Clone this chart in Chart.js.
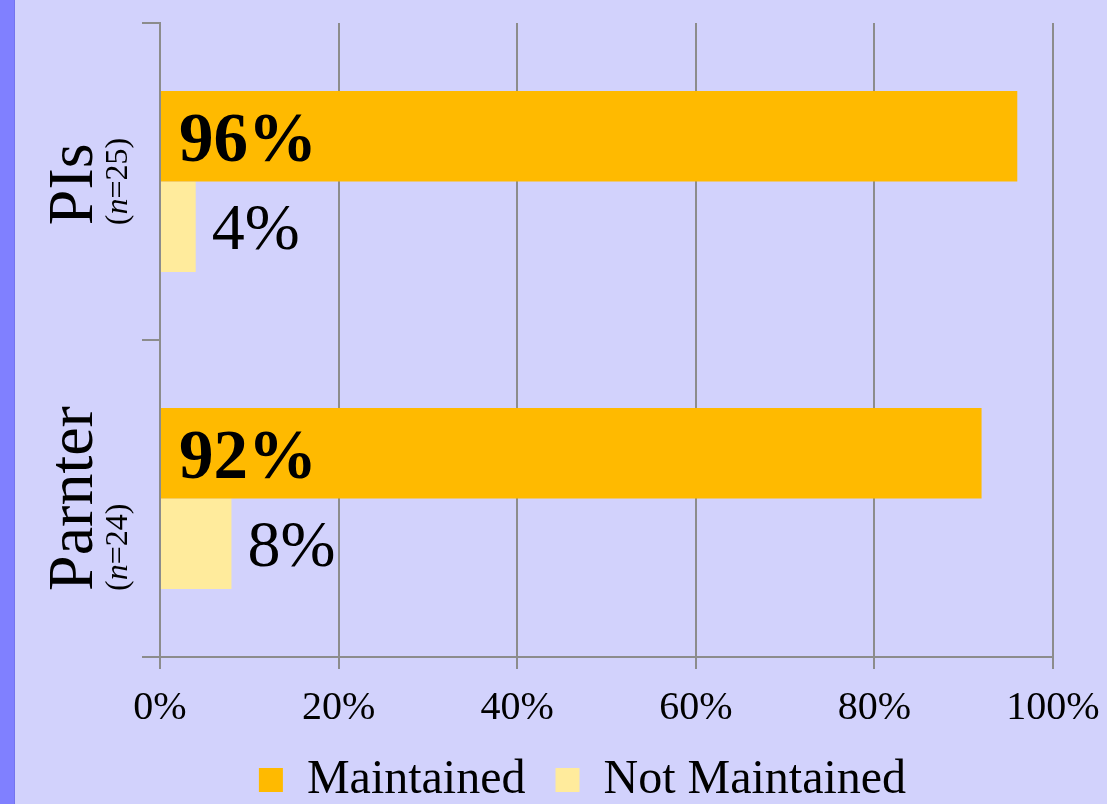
<!DOCTYPE html>
<html>
<head>
<meta charset="utf-8">
<script src="https://cdn.jsdelivr.net/npm/chart.js@4.4.1/dist/chart.umd.min.js"></script>
<style>
  html, body { margin: 0; padding: 0; }
  body { width: 1107px; height: 804px; background: #d2d2fc; position: relative; overflow: hidden; }
  #stripe { position: absolute; left: 0; top: 0; width: 14px; height: 804px; background: #8080ff; border-right: 1px solid #7474ee; }
  #wrap { position: absolute; left: 0; top: 0; width: 1107px; height: 804px; }
</style>
</head>
<body>
<div id="stripe"></div>
<div id="wrap"><canvas id="chart"></canvas></div>
<script>
/* ── data ── */
var categories = ["PIs", "Parnter"];
var sampleSizes = [25, 24];
var maintained = [96, 92];
var notMaintained = [4, 8];
var xTicks = [0, 20, 40, 60, 80, 100];

var FONT = "'Liberation Serif','Times New Roman',serif";
var GRID = "#8c8c8c";

/* rotated category labels on the left */
var catLabelPlugin = {
  id: "catLabels",
  afterDraw: function(chart) {
    var ctx = chart.ctx;
    var y = chart.scales.y;
    categories.forEach(function(name, i) {
      var cy = y.getPixelForValue(i);
      ctx.save();
      ctx.fillStyle = "#000";
      ctx.textBaseline = "alphabetic";
      ctx.textAlign = "left";

      ctx.font = "64px " + FONT;
      var w1 = ctx.measureText(name).width;
      var parts = [["(", "normal"], ["n", "italic"], ["=" + sampleSizes[i] + ")", "normal"]];
      var w2 = 0;
      parts.forEach(function(p) {
        ctx.font = p[1] + " 32px " + FONT;
        w2 += ctx.measureText(p[0]).width;
      });
      var bw = Math.max(w1, w2);

      ctx.translate(0, cy);
      ctx.rotate(-Math.PI / 2);
      var sx = -bw / 2;
      ctx.font = "64px " + FONT;
      ctx.fillText(name, sx, 92);
      var px = sx;
      parts.forEach(function(p) {
        ctx.font = p[1] + " 32px " + FONT;
        ctx.fillText(p[0], px, 127);
        px += ctx.measureText(p[0]).width;
      });
      ctx.restore();
    });
  }
};

/* percentage labels on the bars */
var valueLabelPlugin = {
  id: "valueLabels",
  afterDatasetsDraw: function(chart) {
    var ctx = chart.ctx;
    ctx.save();
    ctx.fillStyle = "#000";
    ctx.textBaseline = "middle";
    ctx.textAlign = "left";
    chart.data.datasets.forEach(function(ds, di) {
      var meta = chart.getDatasetMeta(di);
      meta.data.forEach(function(bar, i) {
        var txt = ds.data[i] + "%";
        if (di === 0) {
          ctx.font = "bold 69px " + FONT;
          ctx.fillText(txt, bar.base + 18, bar.y + 7);
        } else {
          ctx.font = "66px " + FONT;
          ctx.fillText(txt, bar.x + 16, bar.y + 5);
        }
      });
    });
    ctx.restore();
  }
};

new Chart(document.getElementById("chart"), {
  type: "bar",
  data: {
    labels: categories,
    datasets: [
      { label: "Maintained", data: maintained, backgroundColor: "#ffba00", categoryPercentage: 0.571, barPercentage: 1.0 },
      { label: "Not Maintained", data: notMaintained, backgroundColor: "#ffeb9c", categoryPercentage: 0.571, barPercentage: 1.0 }
    ]
  },
  options: {
    indexAxis: "y",
    responsive: true,
    maintainAspectRatio: false,
    animation: false,
    layout: { padding: { top: 23, right: 0, bottom: -10, left: 58 } },
    plugins: {
      legend: {
        position: "bottom",
        labels: { color: "#000", font: { family: FONT, size: 48 }, boxWidth: 24, boxHeight: 24, padding: 30 }
      },
      tooltip: { enabled: false }
    },
    scales: {
      x: {
        type: "linear",
        min: 0, max: 100,
        afterBuildTicks: function(s) { s.ticks = xTicks.map(function(v) { return { value: v }; }); },
        grid: { color: GRID, lineWidth: 2, tickLength: 12 },
        border: { color: GRID, width: 2 },
        ticks: { color: "#000", font: { family: FONT, size: 40 }, padding: 15, callback: function(v) { return v + "%"; } },
        afterFit: function(s) { s.height = 69; s.paddingRight = 54; }
      },
      y: {
        grid: { color: GRID, lineWidth: 2, tickLength: 18, drawOnChartArea: false, offset: true },
        border: { color: GRID, width: 2 },
        ticks: { display: false },
        afterFit: function(s) { s.width = 102; }
      }
    }
  },
  plugins: [catLabelPlugin, valueLabelPlugin]
});
</script>
</body>
</html>
